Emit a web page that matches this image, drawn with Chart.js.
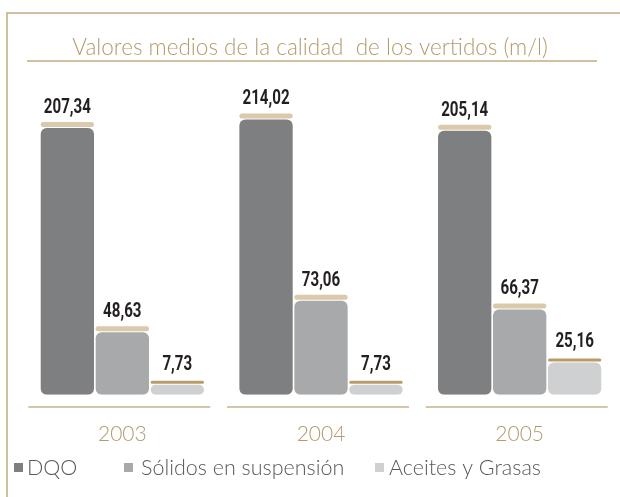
<!DOCTYPE html>
<html>
<head>
<meta charset="utf-8">
<script src="https://cdn.jsdelivr.net/npm/chart.js@4.4.0/dist/chart.umd.min.js"></script>
<style>
  body { margin: 0; background: #fff; }
  #wrap { width: 620px; height: 497px; }
</style>
</head>
<body>
<div id="wrap"><canvas id="vertidos" width="620" height="497"></canvas></div>
<script>
// Valores medios por año (m/l)
const years = ['2003', '2004', '2005'];
const seriesNames = ['DQO', 'Sólidos en suspensión', 'Aceites y Grasas'];
const dqo = [207.34, 214.02, 205.14];
const solidos = [48.63, 73.06, 66.37];
const aceites = [7.73, 7.73, 25.16];

const seriesColors = ['#7e7f81', '#a8a9ab', '#cfd0d2'];
const capColors = ['#dbc9ab', '#dbc9ab', '#b99c6c'];
const tan = '#b49a6d';
const titleText = 'Valores medios de la calidad  de los vertidos (m/l)';

function fmt(v) {
  return v.toFixed(2).replace('.', ',');
}

// frame, title, caps above the bars, value labels and the legend
const decor = {
  id: 'decor',
  beforeDraw(chart) {
    const ctx = chart.ctx;
    ctx.save();
    ctx.strokeStyle = '#c4ab80';
    ctx.lineWidth = 1.5;
    ctx.beginPath();
    ctx.moveTo(7, 497);
    ctx.lineTo(7, 13);
    ctx.lineTo(620, 13);
    ctx.stroke();

    ctx.fillStyle = tan;
    ctx.font = '300 22.5px Lato, sans-serif';
    ctx.textAlign = 'center';
    ctx.textBaseline = 'middle';
    ctx.fillText(titleText, 310, 48);

    ctx.beginPath();
    ctx.moveTo(27, 61);
    ctx.lineTo(597, 61);
    ctx.stroke();

    // baseline under each year group
    const xs = chart.scales.x;
    ctx.strokeStyle = '#c9b28d';
    years.forEach((y, i) => {
      const cx = xs.getPixelForValue(i);
      ctx.beginPath();
      ctx.moveTo(cx - 94, 407);
      ctx.lineTo(cx + 88, 407);
      ctx.stroke();
    });
    ctx.restore();
  },
  afterDatasetsDraw(chart) {
    const ctx = chart.ctx;
    ctx.save();
    chart.data.datasets.forEach((ds, di) => {
      const meta = chart.getDatasetMeta(di);
      meta.data.forEach((bar, i) => {
        const p = bar.getProps(['x', 'y', 'width'], true);
        const h = di === 2 ? 3 : 5;
        ctx.fillStyle = capColors[di];
        ctx.beginPath();
        ctx.roundRect(p.x - p.width / 2, p.y - 1 - h, p.width, h, h / 2);
        ctx.fill();

        // condensed bold value label
        ctx.save();
        ctx.translate(p.x, p.y - 15);
        ctx.scale(0.72, 1);
        ctx.fillStyle = '#231f20';
        ctx.font = 'bold 21px Roboto, sans-serif';
        ctx.textAlign = 'center';
        ctx.textBaseline = 'alphabetic';
        ctx.fillText(fmt(ds.data[i]), 0, 0);
        ctx.restore();
      });
    });

    // legend
    const markX = [14, 124, 375];
    const textX = [27, 141, 389];
    ctx.font = '300 21.5px Lato, sans-serif';
    ctx.textAlign = 'left';
    ctx.textBaseline = 'middle';
    seriesNames.forEach((name, i) => {
      ctx.fillStyle = seriesColors[i];
      ctx.fillRect(markX[i], 463, 9, 9);
      ctx.fillStyle = '#58595b';
      ctx.fillText(name, textX[i], 468);
    });
    ctx.restore();
  }
};

const ctx = document.getElementById('vertidos').getContext('2d');
const chart = new Chart(ctx, {
  type: 'bar',
  data: {
    labels: years,
    datasets: [dqo, solidos, aceites].map((values, i) => ({
      label: seriesNames[i],
      data: values,
      backgroundColor: seriesColors[i],
      borderRadius: 6,
      borderSkipped: false,
      barPercentage: 0.97,
      categoryPercentage: 0.83
    }))
  },
  options: {
    responsive: false,
    animation: false,
    devicePixelRatio: 1,
    layout: { padding: { left: 23, right: 1, top: 86, bottom: 23 } },
    scales: {
      x: {
        grid: { display: false, drawTicks: false },
        border: { display: false },
        ticks: {
          color: tan,
          font: { family: 'Lato', size: 21, weight: '300' },
          padding: 27
        }
      },
      y: { display: false, min: 0, max: 240 }
    },
    plugins: {
      legend: { display: false },
      tooltip: { enabled: false }
    }
  },
  plugins: [decor]
});
</script>
</body>
</html>
